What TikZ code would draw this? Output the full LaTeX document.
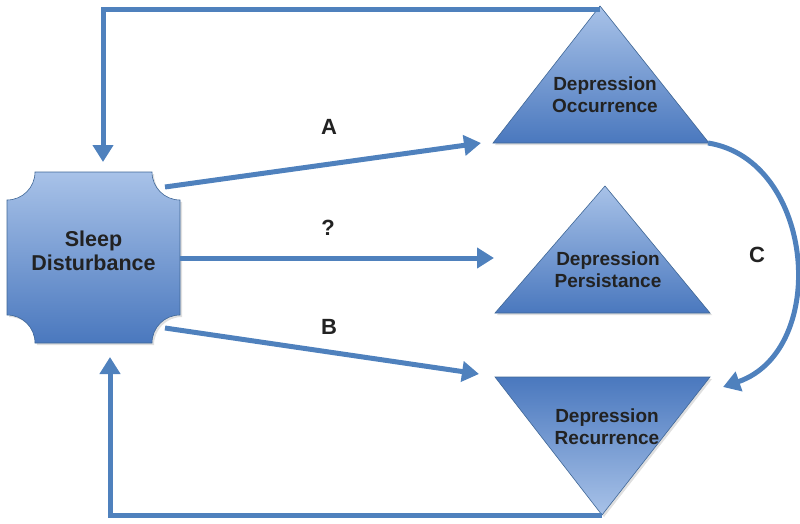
\documentclass[tikz,border=0pt]{standalone}
\usepackage{fontspec}
\setmainfont{Liberation Sans}
\usetikzlibrary{arrows.meta,shadows}
\definecolor{lineblue}{RGB}{79,129,189}
\definecolor{lightblue}{RGB}{168,194,232}
\definecolor{darkblue}{RGB}{74,120,190}
\definecolor{txt}{RGB}{34,34,34}
\tikzset{
  conn/.style={draw=lineblue,line width=5pt,-{Triangle[width=20pt,length=17pt]}},
  shapefill/.style={draw=lineblue!80!black,line width=0.6pt,top color=lightblue,bottom color=darkblue,
    drop shadow={opacity=0.25,shadow xshift=2pt,shadow yshift=-2pt}},
  invfill/.style={draw=lineblue!80!black,line width=0.6pt,top color=darkblue,bottom color=lightblue,
    drop shadow={opacity=0.25,shadow xshift=2pt,shadow yshift=-2pt}},
  lbl/.style={text=txt,font=\bfseries\fontsize{19}{22}\selectfont,align=center,inner sep=0pt},
  big/.style={text=txt,font=\bfseries\fontsize{21.5}{24}\selectfont,align=center,inner sep=0pt},
  letter/.style={text=txt,font=\bfseries\fontsize{22}{24}\selectfont,inner sep=0pt}
}
\begin{document}
\begin{tikzpicture}[x=1pt,y=-1pt]
\useasboundingbox (0,0) rectangle (800,524);
% Sleep disturbance shape
\path[shapefill] (35,172) -- (152,172) .. controls (152,187.5) and (164.5,200) .. (180,200)
  -- (180,315) .. controls (164.5,315) and (152,327.5) .. (152,343)
  -- (35,343) .. controls (35,327.5) and (22.5,315) .. (7,315)
  -- (7,200) .. controls (22.5,200) and (35,187.5) .. (35,172) -- cycle;
\node[big] (sd) at (93.5,251) {Sleep\\Disturbance};
% triangles
\path[shapefill] (600,6) -- (709,143) -- (493,143) -- cycle;
\node[lbl] (occ) at (605,95) {Depression\\Occurrence};
\path[shapefill] (605,186) -- (710,313) -- (495,313) -- cycle;
\node[lbl] (per) at (608,270) {Depression\\Persistance};
\path[invfill] (495,377) -- (710,377) -- (602,515) -- cycle;
\node[lbl] (rec) at (607,427) {Depression\\Recurrence};
% coordinates
\coordinate (occTop) at (600,10);
\coordinate (occRight) at (708,143);
\coordinate (recBot) at (602,515);
\coordinate (tl) at (103,10);
\coordinate (topTip) at (103,162);
\coordinate (bl) at (110,515);
\coordinate (botTip) at (110,357);
\coordinate (sdA) at (165,187);
\coordinate (sdQ) at (180,258);
\coordinate (sdB) at (165,328);
\coordinate (tipA) at (481,143);
\coordinate (tipQ) at (494,258);
\coordinate (tipB) at (479,374);
\coordinate (tipC) at (723,387);
% connectors
\draw[conn] (occTop) -- (tl) -- (topTip);
\draw[conn] (recBot) -- (bl) -- (botTip);
\draw[conn] (sdA) -- (tipA);
\draw[conn] (sdQ) -- (tipQ);
\draw[conn] (sdB) -- (tipB);
\draw[conn] (occRight) .. controls (815,160) and (830,350) .. (tipC);
% labels
\node[letter] (la) at (329,127) {A};
\node[letter] (lq) at (328,228) {?};
\node[letter] (lb) at (329,327) {B};
\node[letter] (lc) at (757,255) {C};
\end{tikzpicture}
\end{document}
